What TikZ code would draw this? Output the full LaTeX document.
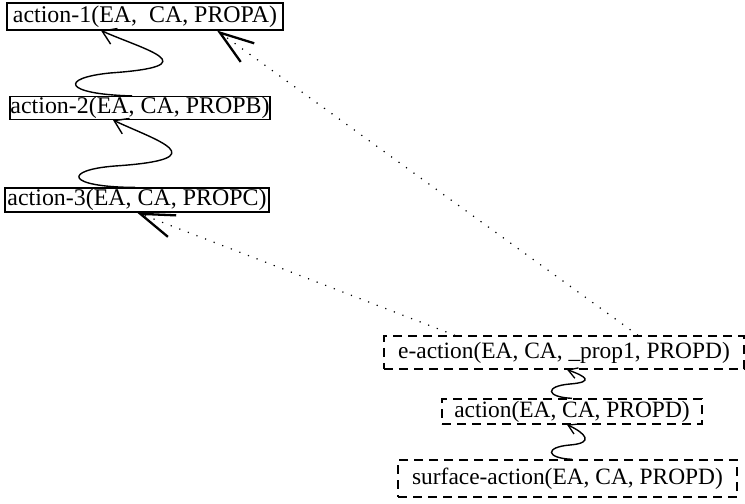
\documentclass[tikz,border=0pt]{standalone}
\usepackage{fontspec}
\setmainfont{Liberation Serif}
\usetikzlibrary{arrows.meta}
\begin{document}
\begin{tikzpicture}[x=1bp,y=-1bp,
  solidbox/.style={draw,line width=1.1bp,inner sep=0pt,font=\fontsize{24}{26}\selectfont},
  dashbox/.style={draw,line width=1.3bp,dash pattern=on 9bp off 6bp,inner sep=0pt,font=\fontsize{23.5}{26}\selectfont},
  wave/.style={line width=1.4bp,-{Straight Barb[length=13bp,width=17bp,line width=1.4bp]}},
  smallwave/.style={line width=1.4bp,-{Straight Barb[length=9bp,width=11bp,line width=1.3bp]}},
  dotline/.style={line width=1.2bp,dash pattern=on 1.2bp off 8bp,-{Straight Barb[length=34bp,width=23bp,line width=2.3bp]}}]
\useasboundingbox (0,0) rectangle (745,504);
\node[solidbox,minimum width=276bp,minimum height=27bp] (a1) at (145,16.5) {action-1(EA,\ \ CA, PROPA)};
\node[solidbox,minimum width=260bp,minimum height=23bp] (a2) at (140,108) {action-2(EA, CA, PROPB)};
\node[solidbox,minimum width=264bp,minimum height=24bp] (a3) at (137,200) {action-3(EA, CA, PROPC)};
\node[dashbox,minimum width=360bp,minimum height=33bp] (e) at (564,352.5) {e-action(EA, CA, \_prop1, PROPD)};
\node[dashbox,minimum width=260bp,minimum height=25bp] (act) at (572,411.5) {action(EA, CA, PROPD)};
\node[dashbox,minimum width=339bp,minimum height=37bp] (surf) at (567.5,478.5) {surface-action(EA, CA, PROPD)};
% wavy arrows between solid boxes
\draw[wave] (a2.north -| 132,0) .. controls (62,94) and (60,78) .. (110,73)
  .. controls (210,66) and (145,50) .. (a1.south -| 101,0);
\draw[wave] (a3.north -| 135,0) .. controls (65,187) and (63,170) .. (115,166)
  .. controls (220,159) and (155,140) .. (a2.south -| 113,0);
% small wavy arrows between dashed boxes
\draw[smallwave] (act.north -| 572,0) .. controls (545,397) and (545,386) .. (570,384)
  .. controls (595,382) and (585,376) .. (e.south -| 567,0);
\draw[smallwave] (surf.north -| 572,0) .. controls (545,458) and (545,447) .. (570,445)
  .. controls (595,443) and (585,433) .. (act.south -| 567,0);
% dotted arrows
\draw[dotline] (e.north -| 638,0) -- (a1.south -| 217,0);
\draw[dotline] (e.north -| 455,0) -- (a3.south -| 137,0);
\end{tikzpicture}
\end{document}
